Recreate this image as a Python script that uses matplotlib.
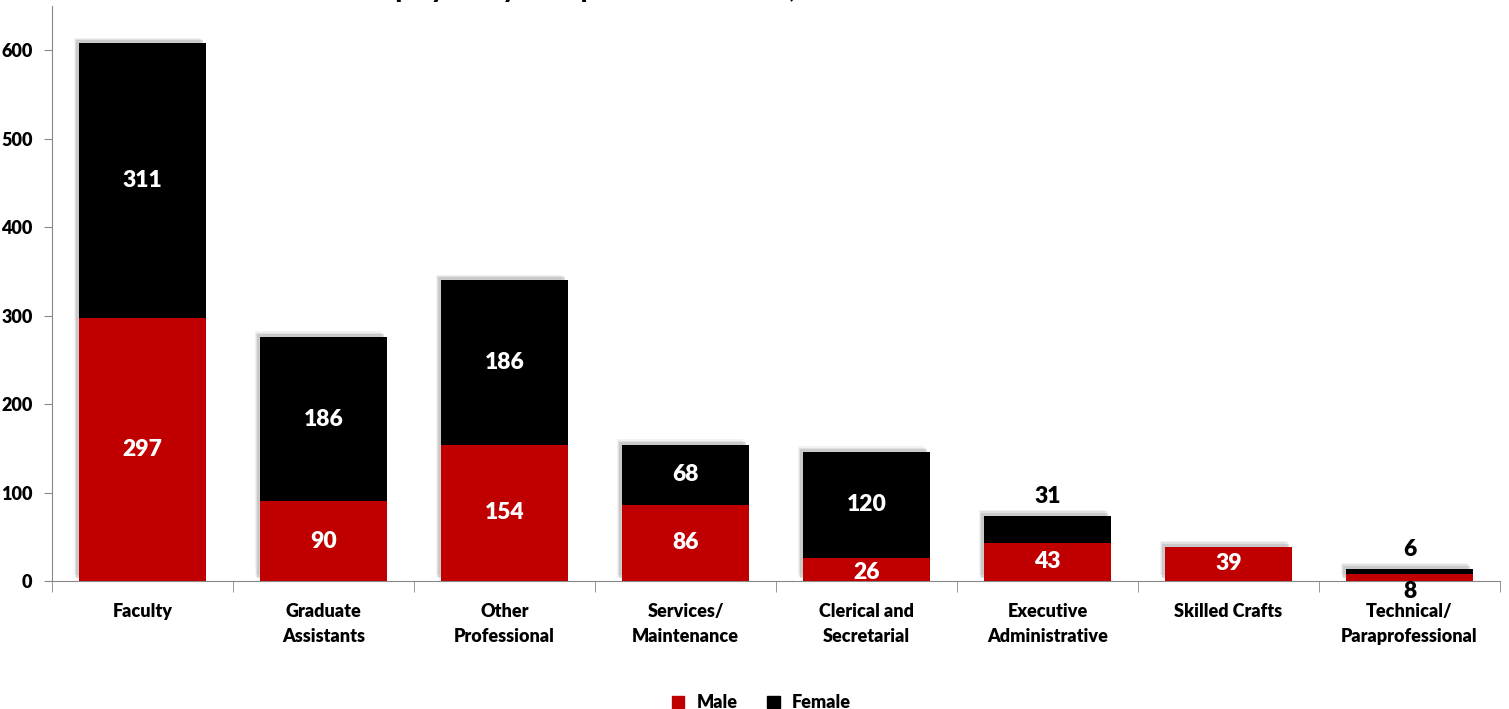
import numpy as np
import matplotlib
matplotlib.use("Agg")
import matplotlib.pyplot as plt
import matplotlib.patheffects as pe
from matplotlib.patches import Patch

plt.rcParams["font.family"] = ["Lato", "DejaVu Sans"]
plt.rcParams["font.weight"] = "heavy"

# ============================================================
# DATA
# ============================================================

categories = [
    "Faculty",
    "Graduate\nAssistants",
    "Other\nProfessional",
    "Services/\nMaintenance",
    "Clerical and\nSecretarial",
    "Executive\nAdministrative",
    "Skilled Crafts",
    "Technical/\nParaprofessional",
]
male = [297, 90, 154, 86, 26, 43, 39, 8]
female = [311, 186, 186, 68, 120, 31, 0, 6]
yticks = [0, 100, 200, 300, 400, 500, 600]

RED = "#C00000"
BLACK = "#000000"
W = "heavy"

# ============================================================
# PLOT
# ============================================================

fig = plt.figure(figsize=(15.09, 7.09), dpi=100)
ax = fig.add_axes([52 / 1509, 1 - 581 / 709, (1500 - 52) / 1509, (581 - 6) / 709])

x = np.arange(len(categories))
width = 0.70
male = np.array(male)
female = np.array(female)

# soft shadow to the upper left, like the office chart
shadow = [
    pe.SimplePatchShadow(offset=(-4, 4), shadow_rgbFace="#999999", alpha=0.12),
    pe.SimplePatchShadow(offset=(-3, 3), shadow_rgbFace="#999999", alpha=0.18),
    pe.SimplePatchShadow(offset=(-2, 2), shadow_rgbFace="#888888", alpha=0.25),
    pe.Normal(),
]

bars_m = ax.bar(x, male, width, color=RED, zorder=3)
bars_f = ax.bar(x, female, width, bottom=male, color=BLACK, zorder=3)
for b in list(bars_f) + list(bars_m):
    b.set_path_effects(shadow)

lab_kw = dict(ha="center", va="center", fontsize=16.5, fontweight=W)
for i in range(len(categories)):
    m, f = male[i], female[i]
    # male labels
    if m >= 20:
        ax.text(x[i], m / 2 if m > 30 else m / 2 - 3, str(m), color="white", **lab_kw)
    else:
        ax.text(x[i], -12, str(m), color="black", **lab_kw)
    # female labels
    if f >= 50:
        ax.text(x[i], m + f / 2, str(f), color="white", **lab_kw)
    elif f > 0:
        ax.text(x[i], m + f + 22, str(f), color="black", **lab_kw)

ax.set_xlim(-0.5, len(categories) - 0.5)
ax.set_ylim(0, 650)
ax.set_yticks(yticks)
ax.set_yticklabels([str(v) for v in yticks], fontsize=13, fontweight=W)
ax.set_xticks(x)
ax.set_xticklabels(categories, fontsize=13, fontweight=W, linespacing=1.55)
ax.tick_params(axis="x", length=0, pad=16)
ax.set_xticks(np.arange(-0.5, len(categories)), minor=True)
ax.tick_params(axis="x", which="minor", length=8, color="#888888", direction="out")
ax.tick_params(axis="y", length=6, color="#888888", pad=8)

for s in ["top", "right"]:
    ax.spines[s].set_visible(False)
ax.spines["left"].set_color("#888888")
ax.spines["bottom"].set_color("#888888")

fig.text(360 / 1509, 1.012, "Employees by Occupation and Gender, Fall 2014",
         ha="left", va="center", fontsize=18, fontweight=W)

handles = [Patch(color=RED, label="Male"), Patch(color=BLACK, label="Female")]
ax.legend(handles=handles, loc="lower center", bbox_to_anchor=(0.49, -0.255), ncol=2,
          frameon=False, fontsize=13, handlelength=0.7, handleheight=0.7,
          columnspacing=1.6, handletextpad=0.7)

fig.savefig("out.png", dpi=100)
